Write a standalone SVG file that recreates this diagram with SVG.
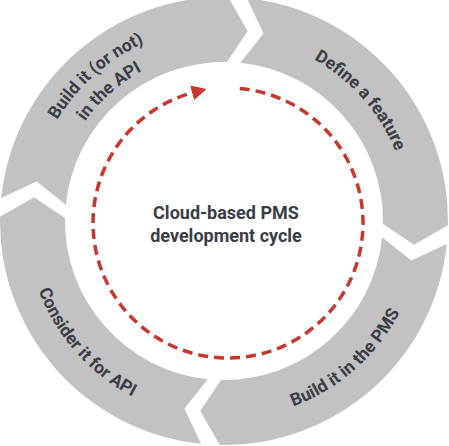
<svg xmlns="http://www.w3.org/2000/svg" xmlns:xlink="http://www.w3.org/1999/xlink" width="449" height="446" viewBox="0 0 449 446">
<style>
.seg{fill:#c2c2c2}
.lbl{font-family:Roboto,"Liberation Sans",sans-serif;font-weight:700;font-size:17.5px;fill:#3a3d45}
.ctr{font-family:Roboto,"Liberation Sans",sans-serif;font-weight:700;font-size:18px;fill:#3a3d45;text-anchor:middle}
.cyc{fill:none;stroke:#c8372d;stroke-width:3.5;stroke-dasharray:10 6}
</style>
<defs>
<path id="segShape" d="M23.03,-222.81 A224,224 0 0 1 223.96,4.30 L190.03,23.67 L158.97,3.05 A159,159 0 0 0 16.34,-158.16 L39.49,-187.39 Z"/>
<path id="arcCW185" d="M27.35,-182.97 A185,185 0 0 1 184.94,-4.84"/>
<path id="arcCW195" d="M28.82,-192.86 A195,195 0 0 1 194.93,-5.10"/>
<path id="arcCW171" d="M25.28,-169.12 A171,171 0 0 1 170.94,-4.48"/>
<path id="arcCCW198" d="M197.93,-5.18 A198,198 0 0 0 29.27,-195.83"/>
<marker id="arrowHead" markerUnits="userSpaceOnUse" markerWidth="15" markerHeight="15" viewBox="0 0 15 15" refX="1" refY="7.5" orient="auto">
<path d="M0,0 L15,7.5 L0,15 Z" fill="#c8372d"/>
</marker>
</defs>
<g id="connectors">
<path class="cyc" d="M239.77,88.51 A135,135 0 1 1 193.06,92.60" marker-end="url(#arrowHead)"/>
</g>
<g id="node-define" transform="translate(224 221)">
<use href="#segShape" class="seg"/>
<text class="lbl"><textPath href="#arcCW185" startOffset="50%" text-anchor="middle">Define a feature</textPath></text>
</g>
<g id="node-build-pms" transform="translate(224 221) rotate(90)">
<use href="#segShape" class="seg"/>
<text class="lbl"><textPath href="#arcCCW198" startOffset="50%" text-anchor="middle">Build it in the PMS</textPath></text>
</g>
<g id="node-consider-api" transform="translate(224 221) rotate(180)">
<use href="#segShape" class="seg"/>
<text class="lbl"><textPath href="#arcCCW198" startOffset="50%" text-anchor="middle">Consider it for API</textPath></text>
</g>
<g id="node-build-api" transform="translate(224 221) rotate(270)">
<use href="#segShape" class="seg"/>
<text class="lbl"><textPath href="#arcCW195" startOffset="50%" text-anchor="middle">Build it (or not)</textPath></text>
<text class="lbl"><textPath href="#arcCW171" startOffset="50%" text-anchor="middle">in the API</textPath></text>
</g>
<g id="node-center">
<text class="ctr" x="226" y="219">Cloud-based PMS</text>
<text class="ctr" x="226" y="242">development cycle</text>
</g>
</svg>
